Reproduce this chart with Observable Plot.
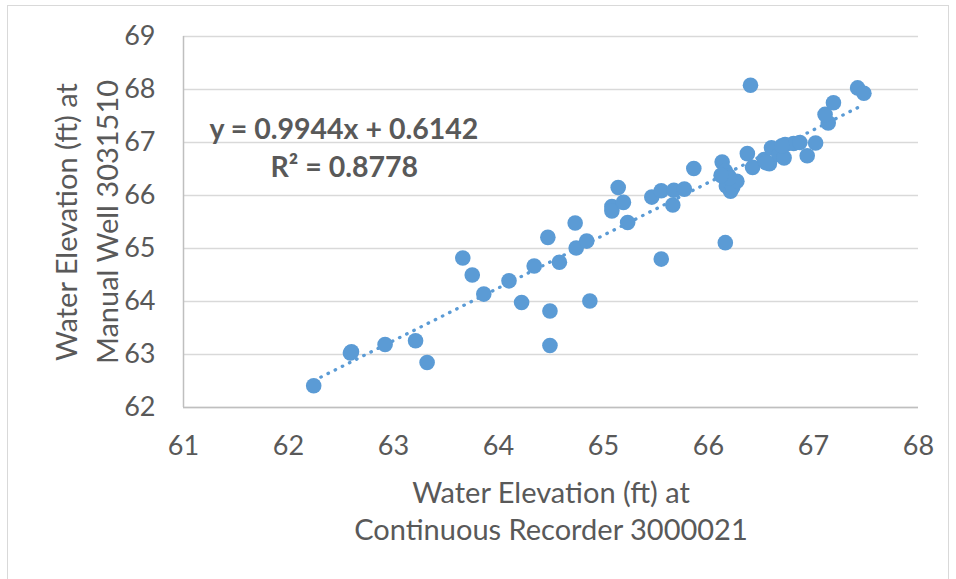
<!DOCTYPE html>
<html>
<head>
<meta charset="utf-8">
<script src="https://cdn.jsdelivr.net/npm/d3@7"></script>
<script src="https://cdn.jsdelivr.net/npm/@observablehq/plot@0.6"></script>
<style>
  html, body { margin: 0; padding: 0; background: #fff; overflow: hidden; }
  #wrap { position: relative; width: 956px; height: 579px; }
  #frame { position: absolute; left: 7px; top: 5px; width: 940px; height: 600px; border: 1px solid #d9d9d9; pointer-events: none; }
</style>
</head>
<body>
<div id="wrap"><div id="frame"></div></div>
<script>
// Continuous Recorder 3000021 water elevation (ft)
const recorderElev = [
  62.24, 62.60, 62.59, 62.92, 63.21, 63.32, 63.66, 63.75, 63.86, 64.10,
  64.22, 64.34, 64.47, 64.49, 64.49, 64.58, 64.74, 64.73, 64.84, 64.87,
  65.08, 65.08, 65.14, 65.19, 65.23, 65.46, 65.55, 65.55, 65.67, 65.66,
  65.77, 65.86, 66.13, 66.16, 66.19, 66.17, 66.21, 66.23, 66.27, 66.16,
  66.40, 66.37, 66.42, 66.53, 66.58, 66.60, 66.67, 66.72, 66.73, 66.81,
  66.87, 66.94, 67.02, 67.14, 67.11, 67.19, 67.42, 67.48, 66.55, 66.70,
  66.20, 66.12
];
// Manual Well 3031510 water elevation (ft)
const wellElev = [
  62.41, 63.05, 63.03, 63.19, 63.26, 62.85, 64.82, 64.50, 64.14, 64.39,
  63.98, 64.67, 65.21, 63.82, 63.17, 64.74, 65.01, 65.48, 65.14, 64.01,
  65.79, 65.71, 66.15, 65.87, 65.49, 65.97, 66.09, 64.80, 66.10, 65.82,
  66.12, 66.51, 66.63, 66.46, 66.37, 66.18, 66.08, 66.15, 66.27, 65.11,
  68.08, 66.79, 66.53, 66.68, 66.60, 66.90, 66.77, 66.71, 66.96, 66.98,
  67.00, 66.75, 66.99, 67.37, 67.53, 67.75, 68.03, 67.93, 66.62, 66.94,
  66.33, 66.38
];
const slope = 0.9944;
const intercept = 0.6142;
const rSquared = 0.8778;
const xTicks = [61, 62, 63, 64, 65, 66, 67, 68];
const yTicks = [62, 63, 64, 65, 66, 67, 68, 69];
const xTitle = "Water Elevation (ft) at\nContinuous Recorder 3000021";
const yTitle = "Water Elevation (ft) at\nManual Well 3031510";

const points = recorderElev.map((x, i) => ({x, y: wellElev[i]}));
const trend = d3.extent(recorderElev).map(x => ({x, y: slope * x + intercept}));
const eqText = `y = ${slope}x + ${intercept}`;
const r2Text = `R² = ${rSquared}`;

const textColor = "#595959";
const blue = "#5B9BD5";
const intFmt = d => String(d);

const chart = Plot.plot({
  width: 956,
  height: 579,
  marginLeft: 183,
  marginRight: 38,
  marginTop: 36,
  marginBottom: 172,
  style: {fontFamily: "Lato, 'Open Sans', sans-serif", color: textColor, background: "transparent", overflow: "visible"},
  x: {domain: [61, 68]},
  y: {domain: [62, 69]},
  marks: [
    Plot.gridY(yTicks, {stroke: "#d9d9d9", strokeOpacity: 1, strokeWidth: 1.5}),
    Plot.ruleX([61], {stroke: "#bfbfbf", strokeWidth: 1.5}),
    Plot.ruleY([62], {stroke: "#bfbfbf", strokeWidth: 1.5}),
    Plot.axisX(xTicks, {tickSize: 0, tickPadding: 28, fontSize: 27, label: null, fill: textColor, tickFormat: intFmt}),
    Plot.axisY(yTicks, {tickSize: 0, tickPadding: 28, fontSize: 27, label: null, fill: textColor, tickFormat: intFmt}),
    Plot.line(trend, {x: "x", y: "y", stroke: blue, strokeWidth: 3.3, strokeDasharray: "0.5 7.5", strokeLinecap: "round"}),
    Plot.dot(points, {x: "x", y: "y", r: 7.8, fill: blue}),
    Plot.text([eqText], {frameAnchor: "top-left", dx: 26, dy: 93, textAnchor: "start", lineAnchor: "middle", fontSize: 28.5, fontWeight: "bold", fill: textColor}),
    Plot.text([r2Text], {frameAnchor: "top-left", dx: 87, dy: 131, textAnchor: "start", lineAnchor: "middle", fontSize: 28.5, fontWeight: "bold", fill: textColor}),
    Plot.text([xTitle], {frameAnchor: "bottom", dy: 69, lineAnchor: "top", textAnchor: "middle", lineHeight: 1.28, fontSize: 29, fill: textColor}),
    Plot.text([yTitle], {frameAnchor: "left", dx: -99, rotate: -90, lineAnchor: "middle", textAnchor: "middle", lineHeight: 1.4, fontSize: 29, fill: textColor})
  ]
});
document.getElementById("wrap").prepend(chart);
</script>
</body>
</html>
